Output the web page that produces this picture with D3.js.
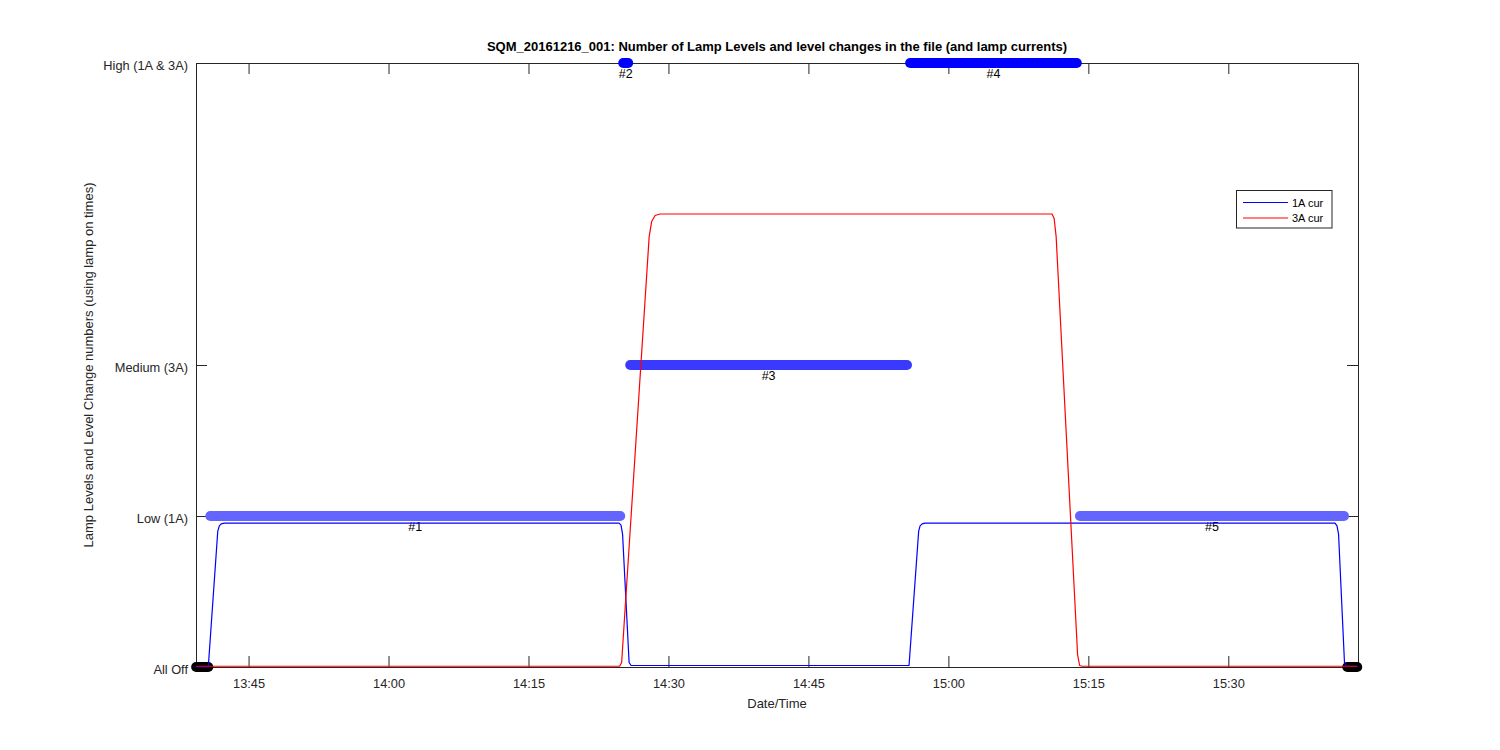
<!DOCTYPE html>
<html>
<head>
<meta charset="utf-8">
<script src="https://cdn.jsdelivr.net/npm/d3@7"></script>
<style>
  html, body { margin: 0; padding: 0; background: #ffffff; }
  svg { display: block; }
  text { font-family: "Liberation Sans", Arial, Helvetica, sans-serif; }
</style>
</head>
<body>
<svg id="chart" width="1500" height="750"></svg>
<script>
// ---------------- DATA ----------------
const titleText = "SQM_20161216_001: Number of Lamp Levels and level changes in the file (and lamp currents)";
const xLabelText = "Date/Time";
const yLabelText = "Lamp Levels and Level Change numbers (using lamp on times)";

const timeDomain = ["13:39:22", "15:43:54"];
const xTickTimes = ["13:45:00", "14:00:00", "14:15:00", "14:30:00", "14:45:00", "15:00:00", "15:15:00", "15:30:00"];
const xTickLabels = ["13:45", "14:00", "14:15", "14:30", "14:45", "15:00", "15:15", "15:30"];

const levelDomain = [0, 4];
const levelTickValues = [0, 1, 2, 4];
const levelTickLabels = ["All Off", "Low (1A)", "Medium (3A)", "High (1A & 3A)"];

// lamp level changes
const changeLabels = ["#1", "#2", "#3", "#4", "#5"];
const changeLevels = [1, 4, 2, 4, 1];
const changeStart = ["13:40:54", "14:25:09", "14:25:54", "14:55:54", "15:14:06"];
const changeEnd   = ["14:24:50", "14:25:41", "14:55:34", "15:13:46", "15:42:24"];

// all-off periods
const offStart = ["13:39:23", "15:42:45"];
const offEnd   = ["13:40:41", "15:43:49"];

// lamp currents
const cur1ATimes = ["13:39:23", "13:40:41", "13:41:42", "13:41:52", "13:42:04", "13:42:24",
                    "14:24:42", "14:24:55", "14:25:05", "14:25:47", "14:26:00",
                    "14:55:47", "14:56:49", "14:56:58", "14:57:11", "14:57:30",
                    "15:41:26", "15:41:39", "15:41:49", "15:42:27", "15:42:40", "15:43:50"];
const cur1AValues = [0.0, 0.0, 0.90, 0.935, 0.948, 0.953,
                     0.953, 0.94, 0.88, 0.03, 0.01,
                     0.01, 0.90, 0.935, 0.948, 0.953,
                     0.953, 0.935, 0.88, 0.03, 0.005, 0.005];

const cur3ATimes = ["13:39:23", "14:24:46", "14:24:59", "14:27:56", "14:28:12", "14:28:34", "14:29:06",
                    "15:11:07", "15:11:20", "15:11:33", "15:13:51", "15:14:04", "15:14:20", "15:43:50"];
const cur3AValues = [0.005, 0.005, 0.03, 2.85, 2.95, 2.99, 3.0,
                     3.0, 2.97, 2.85, 0.08, 0.01, 0.005, 0.005];

const seriesNames = ["1A cur", "3A cur"];
const seriesColors = ["#0000ff", "#ff0000"];
const levelColors = {0: "#000000", 1: "#6464ff", 2: "#3a3aff", 4: "#0000ff"};

// ---------------- LAYOUT ----------------
const parseT = d3.timeParse("%H:%M:%S");
const margin = {left: 196, right: 1358, top: 63, bottom: 667};
const axisColor = "#262626";
const tickLen = 11;

const svg = d3.select("#chart");

const x = d3.scaleTime()
  .domain(timeDomain.map(parseT))
  .range([margin.left, margin.right]);
const y = d3.scaleLinear()
  .domain(levelDomain)
  .range([margin.bottom, margin.top]);

const g = svg.append("g");

// bottom axis
const xAxisB = d3.axisBottom(x)
  .tickValues(xTickTimes.map(parseT))
  .tickFormat((d, i) => xTickLabels[i])
  .tickSizeInner(-tickLen).tickSizeOuter(0).tickPadding(12);
const gxb = g.append("g").attr("transform", `translate(0,${margin.bottom})`).call(xAxisB);

// top axis
const xAxisT = d3.axisTop(x)
  .tickValues(xTickTimes.map(parseT))
  .tickFormat("")
  .tickSizeInner(-tickLen).tickSizeOuter(0);
const gxt = g.append("g").attr("transform", `translate(0,${margin.top})`).call(xAxisT);

// left axis
const yAxisL = d3.axisLeft(y)
  .tickValues(levelTickValues)
  .tickFormat((d, i) => levelTickLabels[i])
  .tickSizeInner(-tickLen).tickSizeOuter(0).tickPadding(8);
const gyl = g.append("g").attr("transform", `translate(${margin.left},0)`).call(yAxisL);

// right axis
const yAxisR = d3.axisRight(y)
  .tickValues(levelTickValues)
  .tickFormat("")
  .tickSizeInner(-tickLen).tickSizeOuter(0);
const gyr = g.append("g").attr("transform", `translate(${margin.right},0)`).call(yAxisR);

[gxb, gxt, gyl, gyr].forEach(a => {
  a.selectAll(".domain").attr("stroke", axisColor).attr("stroke-width", 1);
  a.selectAll(".tick line").attr("stroke", axisColor).attr("stroke-width", 1);
  a.selectAll(".tick text").attr("fill", axisColor)
    .style("font-family", '"Liberation Sans", Arial, sans-serif')
    .style("font-size", "12.8px");
});
gyl.selectAll(".tick text").attr("dy", "0.5em");

// level-change bars
const bars = svg.append("g");
changeLabels.forEach((lab, i) => {
  bars.append("line")
    .attr("x1", x(parseT(changeStart[i])))
    .attr("x2", x(parseT(changeEnd[i])))
    .attr("y1", y(changeLevels[i]))
    .attr("y2", y(changeLevels[i]))
    .attr("stroke", levelColors[changeLevels[i]])
    .attr("stroke-width", 10)
    .attr("stroke-linecap", "round");
});
offStart.forEach((s, i) => {
  bars.append("line")
    .attr("x1", x(parseT(s)))
    .attr("x2", x(parseT(offEnd[i])))
    .attr("y1", y(0))
    .attr("y2", y(0))
    .attr("stroke", levelColors[0])
    .attr("stroke-width", 10)
    .attr("stroke-linecap", "round");
});

// labels
changeLabels.forEach((lab, i) => {
  const mid = new Date((parseT(changeStart[i]).getTime() + parseT(changeEnd[i]).getTime()) / 2);
  svg.append("text")
    .attr("x", x(mid))
    .attr("y", y(changeLevels[i]) + 14.5)
    .attr("text-anchor", "middle")
    .attr("fill", "#000")
    .style("font-size", "12.5px")
    .text(lab);
});

// currents
const line = d3.line().x(d => x(d[0])).y(d => y(d[1]));
const cur1 = cur1ATimes.map((t, i) => [parseT(t), cur1AValues[i]]);
const cur3 = cur3ATimes.map((t, i) => [parseT(t), cur3AValues[i]]);
[cur1, cur3].forEach((data, k) => {
  svg.append("path")
    .datum(data)
    .attr("d", line)
    .attr("fill", "none")
    .attr("stroke", seriesColors[k])
    .attr("stroke-width", 1.2)
    .attr("stroke-linejoin", "round");
});

// legend
const leg = svg.append("g");
leg.append("rect")
  .attr("x", 1236.5).attr("y", 190.5).attr("width", 95.5).attr("height", 37.5)
  .attr("fill", "#fff").attr("stroke", axisColor).attr("stroke-width", 1);
seriesNames.forEach((n, i) => {
  const yy = 202.5 + i * 15.5;
  leg.append("line")
    .attr("x1", 1243).attr("x2", 1288).attr("y1", yy).attr("y2", yy)
    .attr("stroke", seriesColors[i]).attr("stroke-width", 1.2);
  leg.append("text")
    .attr("x", 1292).attr("y", yy + 4)
    .attr("fill", "#000")
    .style("font-size", "11px")
    .text(n);
});

// titles
svg.append("text")
  .attr("x", (margin.left + margin.right) / 2)
  .attr("y", 51)
  .attr("text-anchor", "middle")
  .attr("fill", "#000")
  .style("font-size", "13px")
  .style("font-weight", "bold")
  .text(titleText);

svg.append("text")
  .attr("x", (margin.left + margin.right) / 2)
  .attr("y", 708)
  .attr("text-anchor", "middle")
  .attr("fill", axisColor)
  .style("font-size", "13px")
  .text(xLabelText);

svg.append("text")
  .attr("transform", `translate(93,${(margin.top + margin.bottom) / 2}) rotate(-90)`)
  .attr("text-anchor", "middle")
  .attr("fill", axisColor)
  .style("font-size", "13px")
  .text(yLabelText);
</script>
</body>
</html>
